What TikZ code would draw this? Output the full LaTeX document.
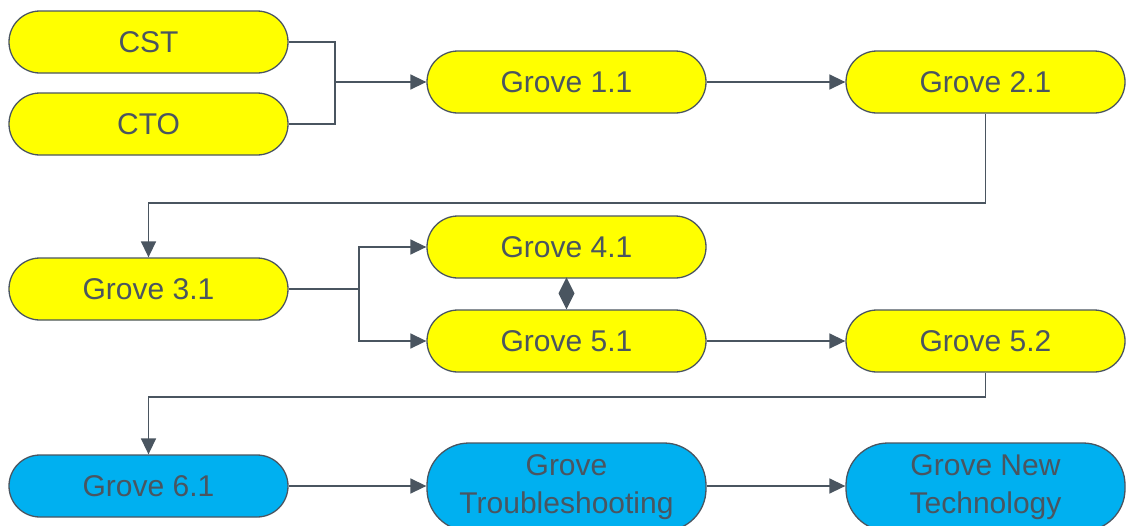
\documentclass[tikz,border=0pt]{standalone}
\usepackage{fontspec}
\setmainfont{Liberation Sans}
\usetikzlibrary{arrows.meta}
\definecolor{ln}{HTML}{4A5560}
\definecolor{yel}{HTML}{FFFF00}
\definecolor{blu}{HTML}{00B0F0}
\tikzset{
  pill/.style={draw=ln, line width=1.3pt, fill=yel, rounded corners=31pt,
    minimum width=279pt, minimum height=62pt, inner sep=0pt,
    text=ln, font=\fontsize{30}{38}\selectfont, align=center},
  bpill/.style={pill, fill=blu, minimum height=88pt, rounded corners=42pt},
  conn/.style={draw=ln, line width=1.5pt},
  arr/.style={conn, -{Triangle[length=16pt,width=15pt]}},
}
\begin{document}
\begin{tikzpicture}[x=1pt,y=-1pt]
\useasboundingbox (0,0) rectangle (1126,525);
\node[pill] (cst) at (148.5,42) {CST};
\node[pill] (cto) at (148.5,124) {CTO};
\node[pill] (g11) at (566.5,82) {Grove 1.1};
\node[pill] (g21) at (985.5,82) {Grove 2.1};
\node[pill] (g31) at (148.5,289) {Grove 3.1};
\node[pill] (g41) at (566.5,247) {Grove 4.1};
\node[pill] (g51) at (566.5,341) {Grove 5.1};
\node[pill] (g52) at (985.5,341) {Grove 5.2};
\node[pill, fill=blu] (g61) at (148.5,486) {Grove 6.1};
\node[bpill] (gts) at (566.5,487) {Grove\\Troubleshooting};
\node[bpill] (gnt) at (985.5,487) {Grove New\\Technology};
\coordinate (j1) at (335,82);
\coordinate (j3) at (359,289);
\draw[conn] (cst.east) -| (j1);
\draw[conn] (cto.east) -| (j1);
\draw[arr] (j1) -- (g11.west);
\draw[arr] (g11.east) -- (g21.west);
\draw[arr] (g21.south) |- (566,203) -| (g31.north);
\draw[conn] (g31.east) -- (j3);
\draw[arr] (j3) |- (g41.west);
\draw[arr] (j3) |- (g51.west);
\draw[conn, -{Diamond[length=32pt,width=16pt]}] (g41.south) -- (g51.north);
\draw[arr] (g51.east) -- (g52.west);
\draw[arr] (g52.south) |- (566,397) -| (g61.north);
\draw[arr] (g61.east) -- (gts.west |- g61.east);
\draw[arr] (gts.east |- g61.east) -- (gnt.west |- g61.east);
\end{tikzpicture}
\end{document}
